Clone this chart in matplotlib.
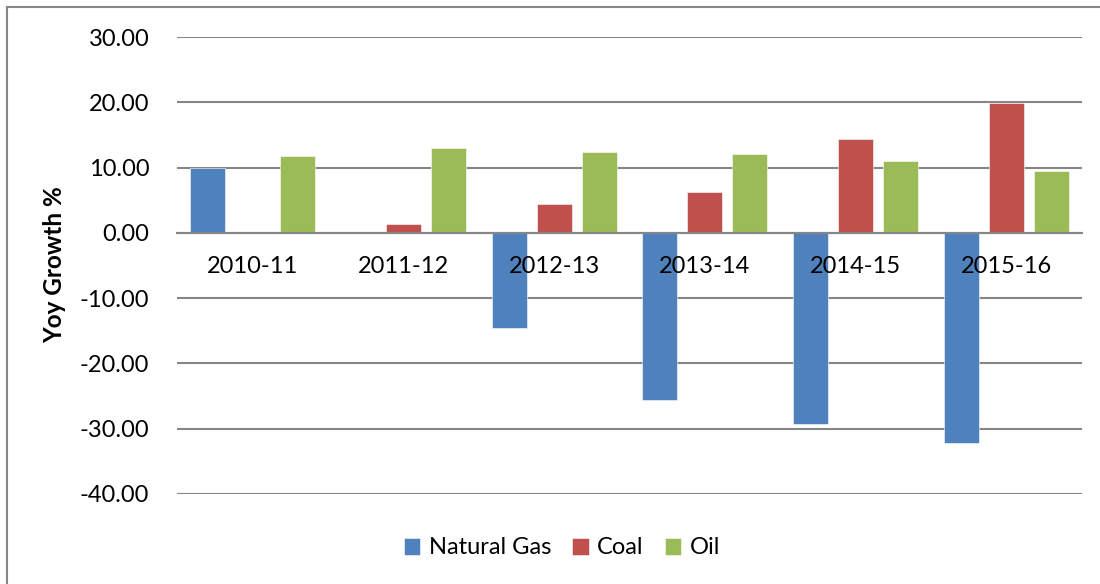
import numpy as np
import matplotlib
matplotlib.use('agg')
from matplotlib import pyplot as plt
from matplotlib.lines import Line2D

years = ['2010-11', '2011-12', '2012-13', '2013-14', '2014-15', '2015-16']
natural_gas = [10.0, 0.0, -14.5, -25.6, -29.3, -32.2]
coal = [0.0, 1.4, 4.4, 6.3, 14.4, 19.9]
oil = [11.75, 12.95, 12.4, 12.1, 11.0, 9.55]

series = [('Natural Gas', natural_gas, '#4f81bd'),
          ('Coal', coal, '#c0504d'),
          ('Oil', oil, '#9bbb59')]

plt.rcParams['font.family'] = ['Lato', 'DejaVu Sans']

W, H = 1100, 584
fig = plt.figure(figsize=(W / 100, H / 100), dpi=100)
ax = fig.add_axes([177 / W, 1 - 494 / H, (1082 - 177) / W, (494 - 37) / H])

x = np.arange(len(years))
width = 0.232
step = 0.298
for i, (name, vals, color) in enumerate(series):
    ax.bar(x + (i - 1) * step, vals, width, color=color, label=name,
           edgecolor='white', linewidth=0.4, zorder=2)

ax.set_xlim(-0.5, len(years) - 0.5)
ax.set_ylim(-40, 30)
ax.set_yticks(np.arange(-40, 31, 10))
ax.set_yticklabels([f'{v:.2f}' for v in np.arange(-40, 31, 10)], fontsize=17)
ax.yaxis.grid(True, color='#868686', linewidth=1.5)

# gridlines behind the bars, category labels in front of them
ax.yaxis.set_zorder(0.5)
ax.xaxis.set_zorder(3)

for s in ['left', 'right', 'top']:
    ax.spines[s].set_visible(False)
ax.spines['bottom'].set_position(('data', 0))
ax.spines['bottom'].set_color('#868686')
ax.spines['bottom'].set_linewidth(1.5)
ax.spines['bottom'].set_zorder(2.5)

ax.set_xticks(x)
ax.set_xticklabels(years, fontsize=17)
ax.tick_params(axis='both', length=0)
ax.tick_params(axis='x', pad=17)
ax.tick_params(axis='y', pad=20)

fig.text(55 / W, 1 - 265 / H, 'Yoy Growth %', rotation=90, fontsize=17.5,
         fontweight='bold', ha='center', va='center')

ax.legend(loc='center', bbox_to_anchor=(562 / W, 1 - 548 / H),
          bbox_transform=fig.transFigure, ncol=3, frameon=False,
          fontsize=17, handlelength=0.7, handleheight=0.7,
          handletextpad=0.35, columnspacing=0.9)

# outer chart border (top and left visible in the crop)
fig.add_artist(Line2D([7 / W, 1], [1 - 7 / H, 1 - 7 / H], color='#868686',
                      linewidth=1.5, transform=fig.transFigure))
fig.add_artist(Line2D([7 / W, 7 / W], [0, 1 - 7 / H], color='#868686',
                      linewidth=1.5, transform=fig.transFigure))

fig.savefig('out.png', dpi=100)
